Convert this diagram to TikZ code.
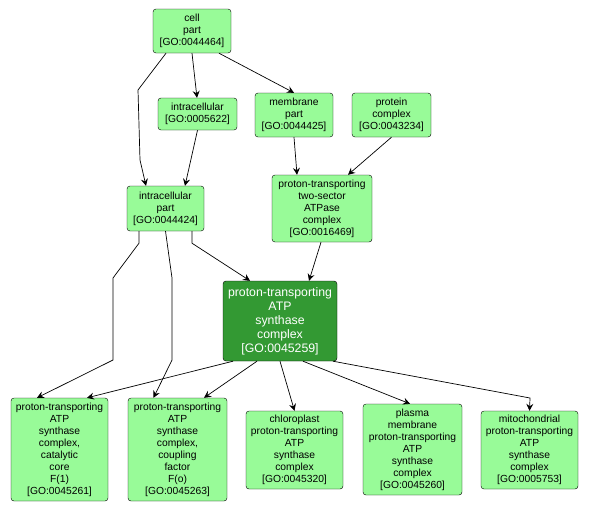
\documentclass[tikz,border=0pt]{standalone}
\usepackage{fontspec}
\setmainfont{Liberation Sans}
\usetikzlibrary{arrows.meta}
\definecolor{golight}{RGB}{152,251,152}
\definecolor{godark}{RGB}{51,153,51}
\begin{document}
\begin{tikzpicture}[x=1pt,y=-1pt,
		term/.style={draw=black,fill=golight,rounded corners=3pt,align=center,inner sep=1pt,
			font=\fontsize{10.3}{12}\selectfont},
		hit/.style={term,fill=godark,text=white,font=\fontsize{12.3}{14}\selectfont},
		edge/.style={-{Stealth[length=7pt,width=7pt,inset=2.5pt]},line width=0.7pt}]
		\useasboundingbox (0,0) rectangle (591,512);

		\node[term,minimum width=78pt,minimum height=44pt] (cellpart) at (192,31) {cell\\part\\{[}GO:0044464{]}};
		\node[term,minimum width=79pt,minimum height=32pt] (intra) at (197.5,114) {intracellular\\{[}GO:0005622{]}};
		\node[term,minimum width=78pt,minimum height=44pt] (mempart) at (294,115) {membrane\\part\\{[}GO:0044425{]}};
		\node[term,minimum width=79pt,minimum height=44pt] (protcomplex) at (391.5,115) {protein\\complex\\{[}GO:0043234{]}};
		\node[term,minimum width=77pt,minimum height=45pt] (intrapart) at (165.5,208.5) {intracellular\\part\\{[}GO:0044424{]}};
		\node[term,minimum width=100pt,minimum height=67pt] (twosector) at (322,208.5) {proton-transporting\\two-sector\\ATPase\\complex\\{[}GO:0016469{]}};
		\node[hit,minimum width=114pt,minimum height=80pt] (atpsynth) at (280,321) {proton-transporting\\ATP\\synthase\\complex\\{[}GO:0045259{]}};

		\node[term,minimum width=97pt,minimum height=103pt] (catalytic) at (59.5,449.5) {proton-transporting\\ATP\\synthase\\complex,\\catalytic\\core\\F(1)\\{[}GO:0045261{]}};
		\node[term,minimum width=99pt,minimum height=103pt] (coupling) at (177.5,449.5) {proton-transporting\\ATP\\synthase\\complex,\\coupling\\factor\\F(o)\\{[}GO:0045263{]}};
		\node[term,minimum width=97pt,minimum height=78pt] (chloro) at (294.5,450) {chloroplast\\proton-transporting\\ATP\\synthase\\complex\\{[}GO:0045320{]}};
		\node[term,minimum width=99pt,minimum height=91pt] (plasma) at (412.5,449.5) {plasma\\membrane\\proton-transporting\\ATP\\synthase\\complex\\{[}GO:0045260{]}};
		\node[term,minimum width=97pt,minimum height=78pt] (mito) at (529.5,450) {mitochondrial\\proton-transporting\\ATP\\synthase\\complex\\{[}GO:0005753{]}};

		% upper part
		\draw[edge] ([xshift=-26pt]cellpart.south) -- (138,90) -- (140,160) -- ([xshift=-19.5pt]intrapart.north);
		\draw[edge] (cellpart.south) -- ([xshift=-0.5pt]intra.north);
		\draw[edge] ([xshift=27pt]cellpart.south) -- (mempart.north);
		\draw[edge] (intra.south) -- ([xshift=19.5pt]intrapart.north);
		\draw[edge] (mempart.south) -- ([xshift=-25pt]twosector.north);
		\draw[edge] (protcomplex.south) -- ([xshift=26pt]twosector.north);
		\draw[edge] ([xshift=-1pt]twosector.south) -- ([xshift=29pt]atpsynth.north);
		\draw[edge] ([xshift=26.5pt]intrapart.south) -- ++(0,12) -- ([xshift=-30pt]atpsynth.north);

		% lower part
		\draw[edge] ([xshift=-26.5pt]intrapart.south) -- ++(0,12) -- (113,278) -- (113,360) -- ([xshift=-22.5pt]catalytic.north);
		\draw[edge] (intrapart.south) -- (172,278) -- (172,360) -- ([xshift=-24pt]coupling.north);
		\draw[edge] ([xshift=-47pt]atpsynth.south) -- ([xshift=27.5pt]catalytic.north);
		\draw[edge] ([xshift=-23pt]atpsynth.south) -- ([xshift=26.5pt]coupling.north);
		\draw[edge] (atpsynth.south) -- (chloro.north);
		\draw[edge] ([xshift=23pt]atpsynth.south) -- ([xshift=-2.5pt]plasma.north);
		\draw[edge] ([xshift=53pt]atpsynth.south) -- (530,398) -- (mito.north);
	\end{tikzpicture}
\end{document}
